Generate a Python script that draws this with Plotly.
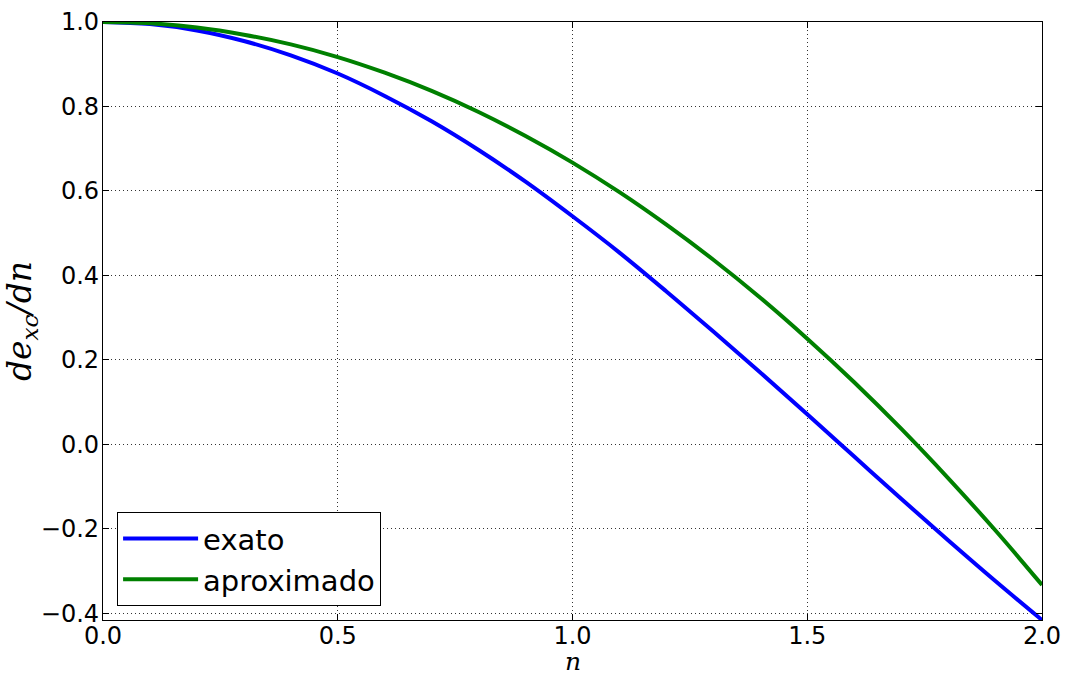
import plotly.graph_objects as go

n_vals = [0.0, 0.1, 0.2, 0.3, 0.4, 0.5, 0.6, 0.7, 0.8, 0.9, 1.0,
          1.1, 1.2, 1.3, 1.4, 1.5, 1.6, 1.7, 1.8, 1.9, 2.0]
exato = [1.000, 0.995, 0.980, 0.955, 0.921, 0.878, 0.825, 0.765, 0.697, 0.622, 0.540,
         0.454, 0.362, 0.267, 0.170, 0.071, -0.029, -0.129, -0.227, -0.323, -0.416]
aproximado = [1.000, 0.997, 0.987, 0.970, 0.947, 0.917, 0.880, 0.837, 0.787, 0.730, 0.667,
              0.597, 0.520, 0.437, 0.347, 0.250, 0.147, 0.037, -0.080, -0.203, -0.333]
x_ticks = [0.0, 0.5, 1.0, 1.5, 2.0]
y_ticks = [-0.4, -0.2, 0.0, 0.2, 0.4, 0.6, 0.8, 1.0]

fig = go.Figure()
fig.add_trace(go.Scatter(x=n_vals, y=exato, mode="lines", name="exato",
                         line=dict(color="#0000ff", width=4, shape="spline")))
fig.add_trace(go.Scatter(x=n_vals, y=aproximado, mode="lines", name="aproximado",
                         line=dict(color="#008000", width=4, shape="spline")))

axis_common = dict(
    showline=True, linecolor="black", linewidth=1.3, mirror="ticks",
    ticks="inside", ticklen=6, tickcolor="black", tickwidth=1,
    showgrid=True, gridcolor="#333333", griddash="1px,3px", gridwidth=1,
    zeroline=False, automargin=False,
    tickfont=dict(family="DejaVu Sans", size=24, color="black"),
)

fig.update_layout(
    width=1065, height=677,
    margin=dict(l=103, r=23, t=22, b=57),
    plot_bgcolor="white", paper_bgcolor="white",
    xaxis=dict(range=[0, 2], tickvals=x_ticks, ticktext=[f"{v:.1f}" for v in x_ticks],
               ticklabelstandoff=-6, **axis_common),
    yaxis=dict(range=[-0.416, 1.0], tickvals=y_ticks,
               ticktext=[(f"{v:.1f}" if v >= 0 else "\u2212" + f"{-v:.1f}") for v in y_ticks],
               ticklabelstandoff=-2,
               title=dict(text="<i>de</i><sub><i>xc</i></sub><i>/dn</i>",
                          font=dict(family="DejaVu Serif", size=33, color="black"), standoff=6),
               **axis_common),
    legend=dict(x=0.015, y=0.023, xanchor="left", yanchor="bottom",
                bordercolor="black", borderwidth=1, bgcolor="white",
                font=dict(family="DejaVu Sans", size=29, color="black"),
                itemwidth=75, tracegroupgap=4),
    showlegend=True,
    annotations=[dict(text="<i>n</i>", xref="paper", yref="paper", x=0.5, y=-0.0953,
                      xanchor="center", yanchor="bottom", showarrow=False, borderpad=0,
                      font=dict(family="DejaVu Serif", size=25, color="black"))],
)

fig.write_html("out.html")
